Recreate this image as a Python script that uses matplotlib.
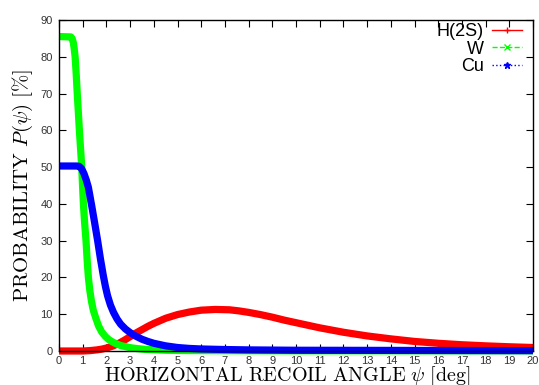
import matplotlib
matplotlib.use('Agg')
import matplotlib.pyplot as plt
from matplotlib.lines import Line2D

# H(2S) probability vs angle
h_x = [0, 1.0, 1.3, 1.6, 1.8, 2.0, 2.25, 2.5, 2.75, 3.0, 3.25, 3.5, 3.75, 4.0, 4.5, 5.0,
       5.5, 6.0, 6.6, 7.2, 7.6, 8.0, 8.5, 9.0, 9.5, 10.0, 10.5, 11.0, 11.5, 12.0, 12.5,
       13.0, 14.0, 15.0, 16.0, 17.0, 18.0, 19.0, 20.0]
h_y = [0, 0.0, 0.1, 0.3, 0.5, 0.8, 1.3, 2.0, 2.9, 3.9, 4.9, 5.8, 6.7, 7.5, 8.9, 9.9,
       10.6, 11.1, 11.3, 11.2, 10.9, 10.5, 9.9, 9.2, 8.4, 7.7, 7.0, 6.3, 5.7, 5.1, 4.6,
       4.1, 3.3, 2.6, 2.1, 1.7, 1.4, 1.15, 0.95]

# W
w_x = [0, 0.5, 0.55, 0.6, 0.64, 0.68, 0.72, 0.77, 0.82, 0.86, 0.91, 0.96, 1.0, 1.03,
       1.08, 1.14, 1.19, 1.24, 1.30, 1.37, 1.45, 1.55, 1.67, 1.8, 1.95, 2.1, 2.25, 2.4,
       2.6, 2.8, 3.0, 3.3, 3.63, 4.0, 4.5, 5.0, 6.0, 10.0, 20.0]
w_y = [85.5, 85.4, 85.0, 84.0, 82.3, 80, 76, 70, 64.5, 60, 55, 50, 44, 40,
       35, 30, 24.5, 20, 16.5, 13.5, 11, 9, 6.8, 5.2, 4.0, 3.1, 2.5, 2.0,
       1.5, 1.2, 0.9, 0.65, 0.45, 0.32, 0.2, 0.15, 0.1, 0.05, 0.05]

# Cu
cu_x = [0, 0.75, 0.85, 0.95, 1.05, 1.15, 1.24, 1.31, 1.38, 1.5, 1.63, 1.75, 1.87, 1.96,
        2.05, 2.17, 2.3, 2.45, 2.6, 2.8, 3.0, 3.25, 3.5, 3.75, 4.0, 4.5, 5.0, 5.5, 6.0,
        7.0, 8.0, 10.0, 15.0, 20.0]
cu_y = [50.3, 50.3, 50.2, 49.6, 48.3, 46.5, 44.5, 42, 39.5, 35, 30, 25, 20.5, 17.5,
        15, 12.5, 10.5, 8.7, 7.3, 6.0, 5.0, 4.0, 3.2, 2.6, 2.1, 1.4, 0.95, 0.7, 0.55,
        0.4, 0.3, 0.2, 0.15, 0.1]

labels = ['H(2S)', 'W', 'Cu']

plt.rcParams['mathtext.fontset'] = 'cm'

fig = plt.figure(figsize=(5.39, 3.85), dpi=100)
ax = fig.add_axes([59 / 539, 1 - 351 / 385, 474 / 539, 331 / 385])

lw = 5.2
style = dict(lw=lw, solid_capstyle='butt', solid_joinstyle='round', clip_on=False)
ax.plot(h_x, h_y, color='#ff0000', zorder=2, **style)
ax.plot(w_x, w_y, color='#00ff00', zorder=3, **style)
ax.plot(cu_x, cu_y, color='#0000ff', zorder=4, **style)

ax.set_xlim(0, 20)
ax.set_ylim(0, 90)
ax.set_xticks(range(0, 21))
ax.set_yticks(range(0, 91, 10))

for s in ax.spines.values():
    s.set_linewidth(1.0)
    s.set_zorder(5)

ax.tick_params(direction='in', top=True, right=True, length=5, width=0.8,
               labelsize=8, labelcolor='#333333', pad=4.5)
ax.tick_params(axis='x', pad=3.5)
for lab in ax.get_xticklabels() + ax.get_yticklabels():
    lab.set_family('Liberation Sans')

ax.set_xlabel(r'$\mathrm{HORIZONTAL\ RECOIL\ ANGLE}\ \psi\ [\mathrm{deg}]$', fontsize=14.5, va='baseline')
ax.xaxis.set_label_coords((287 - 59) / 474, (351 - 381.5) / 331)
ax.set_ylabel(r'$\mathrm{PROBABILITY}\ P(\psi)\ [\%]$', fontsize=15, labelpad=4)

handles = [
    Line2D([0], [0], color='#ff0000', lw=1, ls='-', marker='+', ms=5, mew=1),
    Line2D([0], [0], color='#00ff00', lw=1, ls='--', marker='x', ms=4, mew=1),
    Line2D([0], [0], color='#0000ff', lw=1, ls=':', marker='*', ms=5, mew=1),
]
ax.legend(handles, labels, loc='upper right', bbox_to_anchor=(522 / 539, 1 - 23 / 385),
          bbox_transform=fig.transFigure, frameon=False, markerfirst=False,
          numpoints=1, handlelength=1.67, handletextpad=0.45, labelspacing=0.03,
          borderpad=0, borderaxespad=0, prop={'family': 'Liberation Sans', 'size': 13})

fig.savefig('out.png', dpi=100)
